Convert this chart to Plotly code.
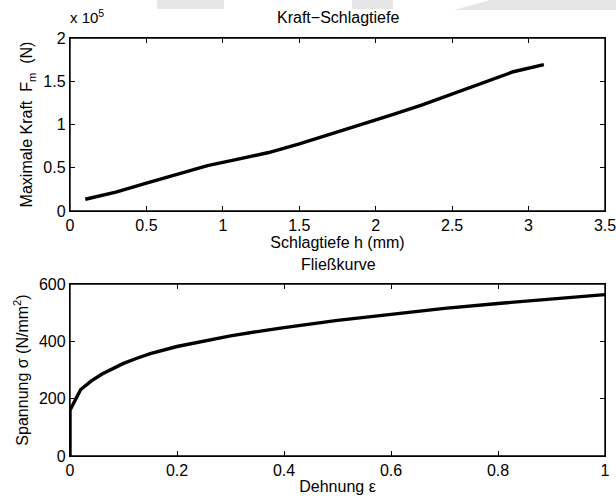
import plotly.graph_objects as go

# ---- data ----
h_mm = [0.1, 0.3, 0.5, 0.7, 0.9, 1.1, 1.3, 1.5, 1.7, 1.9, 2.1, 2.3, 2.5, 2.7, 2.9, 3.1]
force_N = [13600, 21700, 32200, 42700, 52400, 60000, 67600, 77700, 88500, 99400,
           110700, 122500, 135500, 148300, 161000, 169300]

strain = [0, 0, 0.02, 0.04, 0.06, 0.08, 0.1, 0.125, 0.15, 0.2, 0.25, 0.3, 0.35, 0.4,
          0.5, 0.6, 0.7, 0.8, 0.9, 1.0]
stress = [0, 160, 232, 262, 286, 306, 323, 341, 357, 382, 402, 419, 434, 448,
          473, 495, 515, 532, 548, 563]

top_xticks = [0, 0.5, 1, 1.5, 2, 2.5, 3, 3.5]
top_xticktext = ["0", "0.5", "1", "1.5", "2", "2.5", "3", "3.5"]
top_yticks = [0, 50000, 100000, 150000, 200000]
top_yticktext = ["0", "0.5", "1", "1.5", "2"]
bot_xticks = [0, 0.2, 0.4, 0.6, 0.8, 1]
bot_xticktext = ["0", "0.2", "0.4", "0.6", "0.8", "1"]
bot_yticks = [0, 200, 400, 600]
bot_yticktext = ["0", "200", "400", "600"]

W, H = 616, 499
FONT = "Liberation Sans, Arial, Helvetica, sans-serif"

def px(x):
    return x / W

def py(y):
    return 1 - y / H

fig = go.Figure()
fig.add_trace(go.Scatter(x=h_mm, y=force_N, mode="lines",
                         line=dict(color="black", width=3.4),
                         xaxis="x", yaxis="y", showlegend=False))
fig.add_trace(go.Scatter(x=strain, y=stress, mode="lines",
                         line=dict(color="black", width=3.4),
                         xaxis="x2", yaxis="y2", showlegend=False))

axis_common = dict(showgrid=False, zeroline=False, showline=True, linecolor="black",
                   linewidth=1.4, mirror="ticks", ticks="inside", ticklen=5,
                   tickcolor="black", tickwidth=1, automargin=False,
                   ticklabeloverflow="allow",
                   tickfont=dict(family=FONT, size=16, color="black"))

box = lambda xr, yr: dict(type="rect", xref=f"{xr} domain", yref=f"{yr} domain",
                          x0=0, x1=1, y0=0, y1=1, line=dict(color="black", width=1.4),
                          fillcolor="rgba(0,0,0,0)", layer="above")

fig.update_layout(
    width=W, height=H,
    margin=dict(l=0, r=0, t=0, b=0),
    paper_bgcolor="white", plot_bgcolor="white",
    font=dict(family=FONT, color="black"),
    xaxis=dict(axis_common, domain=[px(70), px(605)], range=[0, 3.5],
               tickvals=top_xticks, ticktext=top_xticktext, anchor="y",
               title=dict(text="Schlagtiefe h (mm)", font=dict(size=16), standoff=2)),
    yaxis=dict(axis_common, domain=[py(211), py(38)], range=[0, 200000],
               tickvals=top_yticks, ticktext=top_yticktext, anchor="x",
               ticksuffix=" ",
               title=dict(text="Maximale Kraft  F<sub>m</sub>  (N)", font=dict(size=16), standoff=6)),
    xaxis2=dict(axis_common, domain=[px(70), px(605)], range=[0, 1],
                tickvals=bot_xticks, ticktext=bot_xticktext, anchor="y2",
                title=dict(text="Dehnung ε", font=dict(size=16), standoff=2)),
    yaxis2=dict(axis_common, domain=[py(456), py(284)], range=[0, 600],
                tickvals=bot_yticks, ticktext=bot_yticktext, anchor="x2",
                ticksuffix=" ",
                title=dict(text="Spannung σ (N/mm<sup>2</sup>)", font=dict(size=16), standoff=6)),
    annotations=[
        dict(text="Kraft−Schlagtiefe", x=px(338), y=py(17), xref="paper", yref="paper",
             showarrow=False, font=dict(size=16, family=FONT), xanchor="center", yanchor="middle"),
        dict(text="Fließkurve", x=px(338), y=py(264), xref="paper", yref="paper",
             showarrow=False, font=dict(size=16, family=FONT), xanchor="center", yanchor="middle"),
        dict(text="x 10<sup>5</sup>", x=px(68), y=py(16), xref="paper", yref="paper",
             showarrow=False, font=dict(size=15, family=FONT), xanchor="left", yanchor="middle"),
    ],
    shapes=[
        dict(type="rect", xref="paper", yref="paper", x0=px(157), x1=px(224), y0=py(9), y1=1,
             fillcolor="#e6e6e6", line=dict(width=0), layer="below"),
        dict(type="rect", xref="paper", yref="paper", x0=px(352), x1=px(393), y0=py(9), y1=1,
             fillcolor="#e6e6e6", line=dict(width=0), layer="below"),
        dict(type="path", xref="paper", yref="paper",
             path=f"M {px(454)} {py(10)} L {px(490)} {py(0)} L 1 {py(0)} L 1 {py(10)} Z",
             fillcolor="#e6e6e6", line=dict(width=0), layer="below"),
        box("x", "y"),
        box("x2", "y2"),
    ],
)

fig.write_html("out.html")
